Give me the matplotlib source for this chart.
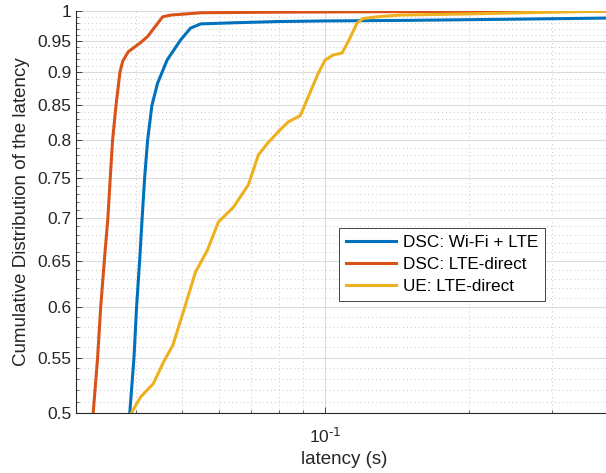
import matplotlib
matplotlib.use("Agg")
import matplotlib.pyplot as plt
import numpy as np

plt.rcParams['font.family'] = ['Liberation Sans', 'DejaVu Sans']

# DSC: Wi-Fi + LTE
wifi_x = [0.0389, 0.0397, 0.0402, 0.0408, 0.0413, 0.0418, 0.0424, 0.0433, 0.0445, 0.0466,
          0.0497, 0.0522, 0.0548, 0.065, 0.08, 0.1, 0.15, 0.25, 0.4]
wifi_y = [0.5, 0.55, 0.6, 0.65, 0.7, 0.75, 0.8, 0.85, 0.883, 0.919,
          0.951, 0.971, 0.978, 0.980, 0.982, 0.983, 0.984, 0.986, 0.988]

# DSC: LTE-direct
dsc_x = [0.0326, 0.0333, 0.0338, 0.0344, 0.0350, 0.0354, 0.0358, 0.0364, 0.0371, 0.0376,
         0.0386, 0.0410, 0.0424, 0.0456, 0.0474, 0.055, 0.08, 0.15, 0.4]
dsc_y = [0.5, 0.55, 0.6, 0.65, 0.7, 0.75, 0.8, 0.85, 0.9, 0.917,
         0.932, 0.947, 0.957, 0.99, 0.993, 0.997, 0.998, 0.999, 1.0]

# UE: LTE-direct
ue_x = [0.0392, 0.041, 0.0436, 0.0458, 0.0479, 0.0503, 0.0534, 0.0566, 0.0597, 0.0642,
        0.069, 0.0724, 0.0757, 0.0805, 0.0837, 0.0887, 0.093, 0.0967, 0.1, 0.104,
        0.1085, 0.1117, 0.1166, 0.12, 0.1285, 0.1435, 0.2, 0.3, 0.4]
ue_y = [0.5, 0.514, 0.526, 0.546, 0.562, 0.594, 0.637, 0.662, 0.695, 0.713,
        0.741, 0.78, 0.796, 0.815, 0.826, 0.835, 0.869, 0.898, 0.919, 0.927,
        0.93, 0.948, 0.979, 0.987, 0.99, 0.993, 0.995, 0.998, 1.0]

labels = ['DSC: Wi-Fi + LTE', 'DSC: LTE-direct', 'UE: LTE-direct']
colors = ['#0072BD', '#D95319', '#EDB120']

yticks = [0.5, 0.55, 0.6, 0.65, 0.7, 0.75, 0.8, 0.85, 0.9, 0.95, 1.0]
yticklabels = ['0.5', '0.55', '0.6', '0.65', '0.7', '0.75', '0.8', '0.85', '0.9', '0.95', '1']

fig = plt.figure(figsize=(6.06, 4.73), dpi=100)
ax = fig.add_axes([76 / 606, 60 / 473, 536 / 606, 402 / 473])

ax.plot(wifi_x, wifi_y, color=colors[0], lw=2.2, label=labels[0], zorder=3)
ax.plot(dsc_x, dsc_y, color=colors[1], lw=2.2, label=labels[1], zorder=3)
ax.plot(ue_x, ue_y, color=colors[2], lw=2.2, label=labels[2], zorder=3)

ax.set_xscale('log')
ax.set_yscale('log')
ax.set_xlim(0.03, 0.4)
ax.set_ylim(0.5, 1.0)

ax.set_xticks([0.1])
ax.set_xticklabels(['$\\mathregular{10^{\\text{-1}}}$'])
ax.set_xticks([0.04, 0.05, 0.06, 0.07, 0.08, 0.09, 0.2, 0.3], minor=True)
ax.set_xticklabels([], minor=True)
ax.set_yticks(yticks)
ax.set_yticklabels(yticklabels)
ax.set_yticks([v / 100 for v in range(50, 101)], minor=True)
ax.set_yticklabels([], minor=True)

ax.tick_params(which='both', direction='in', colors='#262626', labelsize=12.5)
ax.tick_params(which='major', length=4, width=0.6)
ax.tick_params(which='minor', length=2, width=0.5)
ax.tick_params(axis='x', pad=9.5)

ax.grid(True, which='major', color='#dcdcdc', lw=0.8, ls='-', zorder=0)
ax.grid(True, which='minor', color='#c8c8c8', lw=0.7, ls=(0, (1, 3)), zorder=0)

for s in ['top', 'right']:
    ax.spines[s].set_visible(False)
for s in ['left', 'bottom']:
    ax.spines[s].set_color('#262626')
    ax.spines[s].set_linewidth(0.8)

ax.set_xlabel('latency (s)', fontsize=13.5, color='#262626', labelpad=4)
ax.set_ylabel('Cumulative Distribution of the latency', fontsize=13.5, color='#262626', labelpad=5)

leg = ax.legend(loc='upper left', bbox_to_anchor=((339 - 76) / 536, (413 - 228) / 402),
                borderaxespad=0, fontsize=12.3, fancybox=False, framealpha=1,
                edgecolor='#262626', handlelength=2.95, handletextpad=0.4,
                borderpad=0.4, labelspacing=0.42)
leg.get_frame().set_linewidth(0.6)

fig.savefig('out.png', dpi=100)
